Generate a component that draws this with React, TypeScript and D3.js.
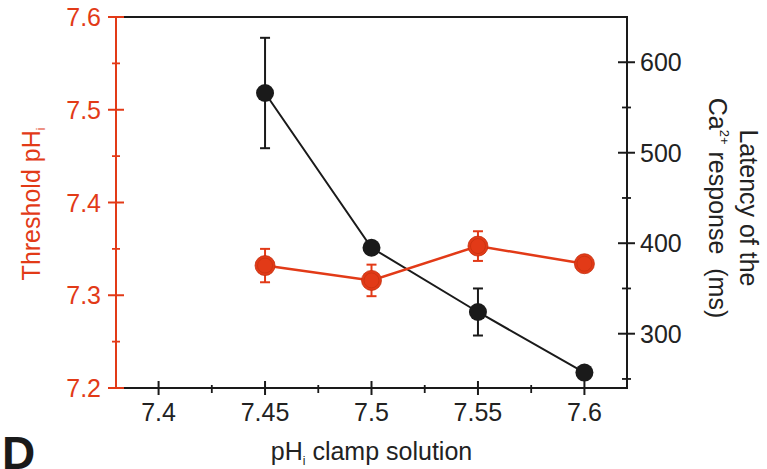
import * as d3 from "d3"

// pHi clamp solution (x) for both series
const phClamp = [7.45, 7.5, 7.55, 7.6]
// threshold pHi (left axis, red)
const thresholdPh = [7.332, 7.316, 7.353, 7.334]
const thresholdErr = [0.018, 0.017, 0.016, 0]
// latency of the Ca2+ response in ms (right axis, black)
const latencyMs = [566, 395, 324, 257]
const latencyErr = [61, 0, 26, 0]

const xTicks = [7.4, 7.45, 7.5, 7.55, 7.6]
const xMinorTicks = [7.425, 7.475, 7.525, 7.575]
const leftTicks = [7.2, 7.3, 7.4, 7.5, 7.6]
const leftMinorTicks = [7.25, 7.35, 7.45, 7.55]
const rightTicks = [300, 400, 500, 600]
const rightMinorTicks = [250, 350, 450, 550]

const RED = "#e23a17"
const RED_DARK = "#c4300f"
const INK = "#1a1a1a"
const FONT = "'Liberation Sans', Arial, Helvetica, sans-serif"

const width = 767
const height = 469
const margin = { top: 17, right: 140, bottom: 81, left: 116 }

const App = () => {
  const x = d3
    .scaleLinear()
    .domain([7.38, 7.62])
    .range([margin.left, width - margin.right])
  const yLeft = d3
    .scaleLinear()
    .domain([7.2, 7.6])
    .range([height - margin.bottom, margin.top])
  const yRight = d3
    .scaleLinear()
    .domain([240, 650])
    .range([height - margin.bottom, margin.top])

  const x0 = margin.left
  const x1 = width - margin.right
  const y0 = height - margin.bottom
  const y1 = margin.top

  const line = d3.line<[number, number]>()
  const redPts: [number, number][] = phClamp.map((p, i) => [x(p), yLeft(thresholdPh[i])])
  const blackPts: [number, number][] = phClamp.map((p, i) => [x(p), yRight(latencyMs[i])])

  return (
    <svg
      width={width}
      height={height}
      style={{ position: "absolute", left: 0, top: 0, fontFamily: FONT }}
    >
      {/* frame: top, right, bottom black */}
      <path
        d={`M${x0},${y1}H${x1}V${y0}H${x0}`}
        fill="none"
        stroke={INK}
        strokeWidth={2}
      />

      {/* bottom axis ticks */}
      {xTicks.map((t) => (
        <g key={`xt${t}`}>
          <line x1={x(t)} x2={x(t)} y1={y0 - 7} y2={y0 + 7} stroke={INK} strokeWidth={2} />
          <text
            x={x(t)}
            y={y0 + 33}
            textAnchor="middle"
            fontSize={25}
            fill="#222"
          >
            {String(t)}
          </text>
        </g>
      ))}
      {xMinorTicks.map((t) => (
        <line key={`xm${t}`} x1={x(t)} x2={x(t)} y1={y0 - 3} y2={y0 + 5} stroke={INK} strokeWidth={1.8} />
      ))}

      {/* right axis */}
      {rightTicks.map((t) => (
        <g key={`rt${t}`}>
          <line x1={x1 - 9} x2={x1 + 8} y1={yRight(t)} y2={yRight(t)} stroke={INK} strokeWidth={2} />
          <text x={x1 + 13} y={yRight(t)} dy="0.36em" fontSize={25} fill="#222">
            {String(t)}
          </text>
        </g>
      ))}
      {rightMinorTicks.map((t) => (
        <line key={`rm${t}`} x1={x1 - 5} x2={x1 + 4} y1={yRight(t)} y2={yRight(t)} stroke={INK} strokeWidth={1.8} />
      ))}

      {/* left axis (red) */}
      <line x1={x0} x2={x0} y1={y1} y2={y0} stroke={RED} strokeWidth={2} />
      {leftTicks.map((t) => (
        <g key={`lt${t}`}>
          <line x1={x0 - 8} x2={x0 + 8} y1={yLeft(t)} y2={yLeft(t)} stroke={RED} strokeWidth={2} />
          <text
            x={x0 - 15}
            y={yLeft(t)}
            dy="0.36em"
            textAnchor="end"
            fontSize={25}
            fill={RED}
          >
            {t.toFixed(1)}
          </text>
        </g>
      ))}
      {leftMinorTicks.map((t) => (
        <line key={`lm${t}`} x1={x0 - 4} x2={x0 + 4} y1={yLeft(t)} y2={yLeft(t)} stroke={RED} strokeWidth={1.8} />
      ))}

      {/* latency series (black) */}
      <path d={line(blackPts) || ""} fill="none" stroke={INK} strokeWidth={2} />
      {phClamp.map((p, i) =>
        latencyErr[i] > 0 ? (
          <g key={`be${p}`} stroke={INK} strokeWidth={2}>
            <line x1={x(p)} x2={x(p)} y1={yRight(latencyMs[i] - latencyErr[i])} y2={yRight(latencyMs[i] + latencyErr[i])} />
            <line x1={x(p) - 5} x2={x(p) + 5} y1={yRight(latencyMs[i] + latencyErr[i])} y2={yRight(latencyMs[i] + latencyErr[i])} />
            <line x1={x(p) - 5} x2={x(p) + 5} y1={yRight(latencyMs[i] - latencyErr[i])} y2={yRight(latencyMs[i] - latencyErr[i])} />
          </g>
        ) : null
      )}
      {blackPts.map(([cx, cy], i) => (
        <circle key={`bp${i}`} cx={cx} cy={cy} r={9} fill={INK} />
      ))}

      {/* threshold series (red) */}
      <path d={line(redPts) || ""} fill="none" stroke={RED} strokeWidth={2.5} />
      {phClamp.map((p, i) =>
        thresholdErr[i] > 0 ? (
          <g key={`re${p}`} stroke={RED} strokeWidth={2}>
            <line x1={x(p)} x2={x(p)} y1={yLeft(thresholdPh[i] - thresholdErr[i])} y2={yLeft(thresholdPh[i] + thresholdErr[i])} />
            <line x1={x(p) - 5} x2={x(p) + 5} y1={yLeft(thresholdPh[i] + thresholdErr[i])} y2={yLeft(thresholdPh[i] + thresholdErr[i])} />
            <line x1={x(p) - 5} x2={x(p) + 5} y1={yLeft(thresholdPh[i] - thresholdErr[i])} y2={yLeft(thresholdPh[i] - thresholdErr[i])} />
          </g>
        ) : null
      )}
      {redPts.map(([cx, cy], i) => (
        <g key={`rp${i}`}>
          <circle cx={cx} cy={cy} r={10} fill={RED} stroke={RED_DARK} strokeWidth={0.8} />
          <circle cx={cx} cy={cy} r={7.5} fill="none" stroke={RED_DARK} strokeWidth={0.7} />
        </g>
      ))}

      {/* axis titles */}
      <text
        transform={`translate(40,204) rotate(-90)`}
        textAnchor="middle"
        fontSize={25}
        fill={RED}
      >
        Threshold pH<tspan fontSize={12} dy={5}>i</tspan>
      </text>

      <text x={(x0 + x1) / 2} y={460} textAnchor="middle" fontSize={25} fill="#222">
        pH<tspan fontSize={12} dy={5}>i</tspan>
        <tspan dy={-5}> clamp solution</tspan>
      </text>

      <g transform="translate(740,208) rotate(90)" fill="#222" fontSize={25}>
        <text x={0} y={0} textAnchor="middle">Latency of the</text>
        <text x={0} y={31} textAnchor="middle" style={{ whiteSpace: "pre" }}>
          Ca<tspan fontSize={13} dy={-11}>2+</tspan>
          <tspan dy={11}>{" response  (ms)"}</tspan>
        </text>
      </g>

      <text x={2} y={469} fontSize={46} fontWeight="bold" fill={INK}>
        D
      </text>
    </svg>
  )
}

export default App
